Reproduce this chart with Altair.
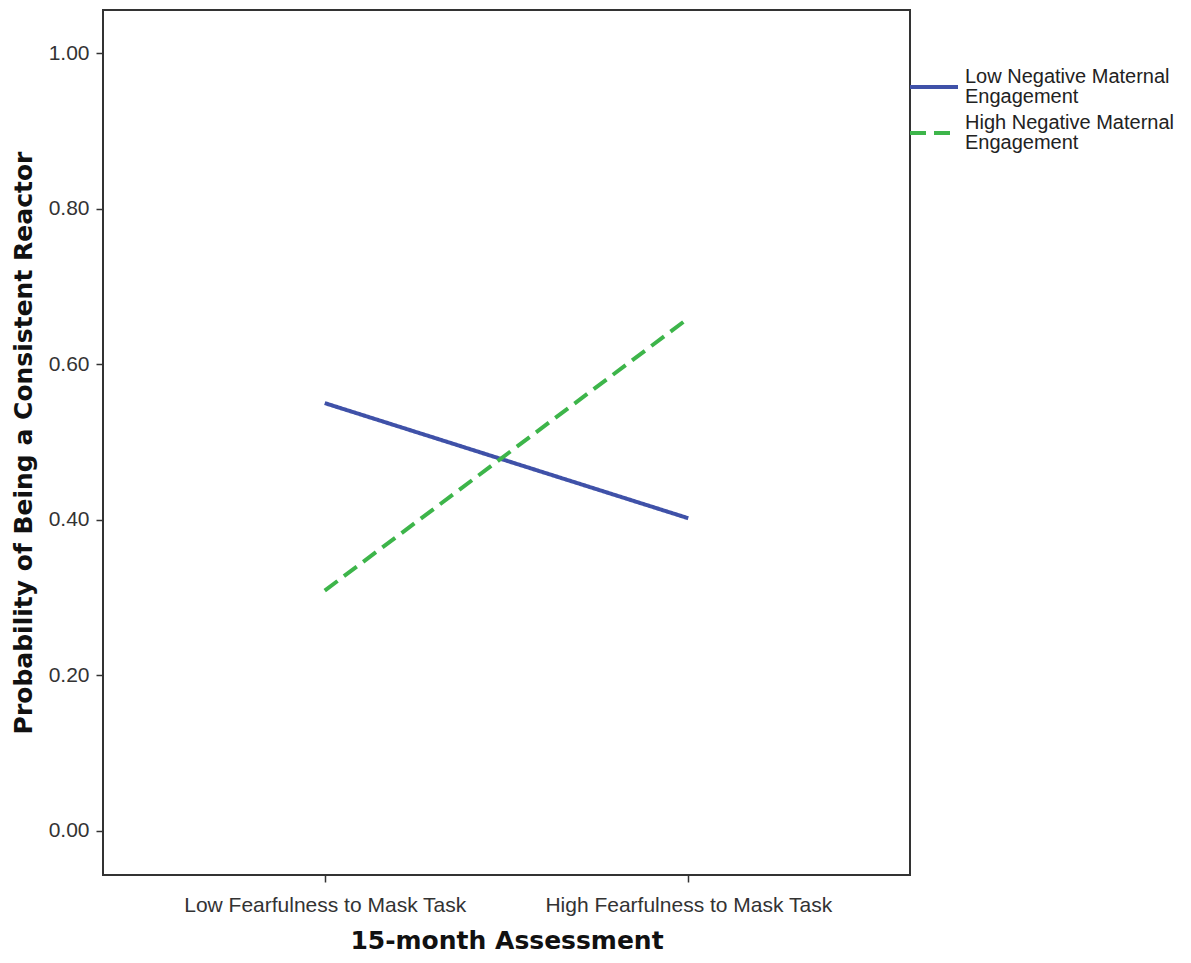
import altair as alt
import pandas as pd

categories = ["Low Fearfulness to Mask Task", "High Fearfulness to Mask Task"]
series_names = ["Low Negative Maternal|Engagement", "High Negative Maternal|Engagement"]
low_neg_values = [0.550, 0.402]
high_neg_values = [0.309, 0.659]

rows = []
for c, v in zip(categories, low_neg_values):
    rows.append({"fear": c, "group": series_names[0], "prob": v})
for c, v in zip(categories, high_neg_values):
    rows.append({"fear": c, "group": series_names[1], "prob": v})
df = pd.DataFrame(rows)

chart = alt.Chart(df).mark_line(strokeWidth=4).encode(
    x=alt.X("fear:N", sort=categories,
            scale=alt.Scale(type="point", padding=0.61),
            axis=alt.Axis(title="15-month Assessment", labelAngle=0, domain=False,
                          tickSize=7, tickColor="#333", tickWidth=1.5,
                          labelFontSize=21, labelColor="#333", labelPadding=12,
                          labelFont="Liberation Sans", labelLimit=400,
                          titleFont="DejaVu Sans", titleFontSize=25, titleFontWeight="bold",
                          titleColor="#111", titlePadding=13)),
    y=alt.Y("prob:Q",
            scale=alt.Scale(domain=[-0.0566, 1.0553], nice=False, zero=False),
            axis=alt.Axis(title="Probability of Being a Consistent Reactor",
                          values=[0, 0.2, 0.4, 0.6, 0.8, 1.0], format=".2f",
                          grid=False, domain=False, tickSize=7, tickColor="#333", tickWidth=1.5,
                          labelFontSize=21, labelColor="#333", labelPadding=7,
                          labelFont="Liberation Sans",
                          titleFont="DejaVu Sans", titleFontSize=25, titleFontWeight="bold",
                          titleColor="#111", titlePadding=12)),
    color=alt.Color("group:N", sort=series_names,
                    scale=alt.Scale(domain=series_names, range=["#3F51A8", "#3DB54A"]),
                    legend=alt.Legend(title=None, orient="none", legendX=805, legendY=51,
                                      symbolType="stroke", symbolSize=2304, symbolStrokeWidth=4,
                                      labelExpr="split(datum.label, '|')",
                                      labelBaseline="line-bottom",
                                      labelFontSize=20, labelFont="Liberation Sans",
                                      labelColor="#222", labelOffset=5, rowPadding=-2,
                                      labelLimit=300, padding=0)),
    strokeDash=alt.StrokeDash("group:N", sort=series_names,
                              scale=alt.Scale(domain=series_names, range=[[1, 0], [16, 8]]),
                              legend=None),
).properties(
    width=807, height=865,
    autosize=alt.AutoSizeParams(type="none"),
    padding={"left": 95, "top": 2, "right": 272, "bottom": 80},
    background="white",
).configure(
    style={"guide-label": {"lineHeight": 20}}
).configure_view(
    stroke="#333", strokeWidth=2
)

chart.save("out.html", embed_options={"renderer": "svg", "actions": False})
